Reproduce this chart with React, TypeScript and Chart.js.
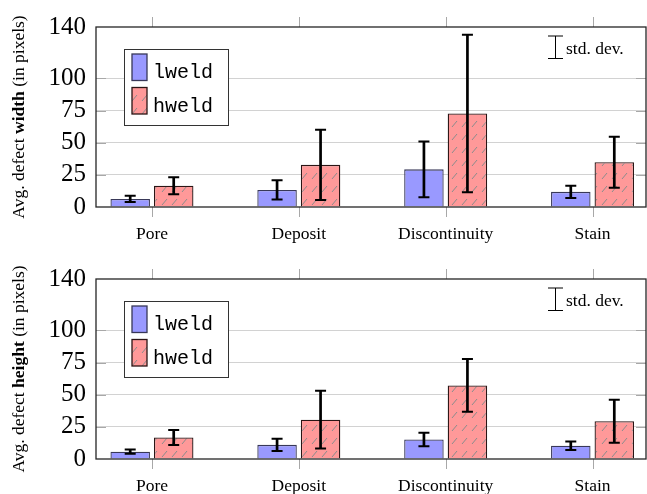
import React, { useEffect, useRef } from 'react';
import { Chart, registerables } from 'chart.js';

Chart.register(...registerables);

// ---------- data ----------
const categories = ['Pore', 'Deposit', 'Discontinuity', 'Stain'];
const seriesNames = ['lweld', 'hweld'];
const yTicks = [0, 25, 50, 75, 100, 140];

const widthLweld = [6.3, 13.3, 29.3, 11.8];
const widthLweldStd = [2.4, 7.5, 21.7, 4.8];
const widthHweld = [16.6, 32.8, 72.7, 34.8];
const widthHweldStd = [6.6, 27.3, 61.3, 19.9];

const heightLweld = [5.7, 11.0, 15.2, 10.3];
const heightLweldStd = [1.7, 4.8, 5.3, 3.3];
const heightHweld = [16.7, 30.6, 57.2, 29.4];
const heightHweldStd = [5.8, 22.5, 20.5, 16.7];

// ---------- styles ----------
const SERIF = "'Liberation Serif', 'Times New Roman', serif";
const MONO = "'Liberation Mono', 'Courier New', monospace";
const BLUE = '#9999ff';
const RED = '#ff9999';
const X_MIN = -0.381;
const X_MAX = 3.364;

function makeHatch(): CanvasPattern | string {
  const c = document.createElement('canvas');
  c.width = 10;
  c.height = 13;
  const g = c.getContext('2d');
  if (!g) return RED;
  g.fillStyle = RED;
  g.fillRect(0, 0, 10, 13);
  g.strokeStyle = '#8c8c8c';
  g.lineWidth = 1;
  g.beginPath();
  g.moveTo(2, 10);
  g.lineTo(7, 4);
  g.stroke();
  return g.createPattern(c, 'repeat') || RED;
}

type PanelProps = {
  word: string;
  lweld: number[];
  lweldStd: number[];
  hweld: number[];
  hweldStd: number[];
  canvasHeight: number;
  top: number;
};

function Panel({ word, lweld, lweldStd, hweld, hweldStd, canvasHeight, top }: PanelProps) {
  const ref = useRef<HTMLCanvasElement | null>(null);

  useEffect(() => {
    if (!ref.current) return;
    const hatch = makeHatch();
    const fills = [BLUE, hatch];
    const borders = ['#383858', '#2b1515'];

    const decor = {
      id: 'decor',
      beforeDatasetsDraw(chart: any) {
        const { ctx, chartArea: a, scales } = chart;
        const y = scales.y;
        const x = scales.x;
        ctx.save();
        ctx.strokeStyle = '#a8a8a8';
        ctx.lineWidth = 1;
        ctx.beginPath();
        for (const v of yTicks) {
          if (v === 0 || v === 140) continue;
          const py = Math.round(y.getPixelForValue(v)) + 0.5;
          ctx.moveTo(a.left, py);
          ctx.lineTo(a.left + 10, py);
          ctx.moveTo(a.right - 10, py);
          ctx.lineTo(a.right, py);
        }
        categories.forEach((_, i) => {
          const px = Math.round(x.getPixelForValue(i)) + 0.5;
          ctx.moveTo(px, a.top - 10);
          ctx.lineTo(px, a.top);
          ctx.moveTo(px, a.bottom);
          ctx.lineTo(px, a.bottom + 10);
        });
        ctx.stroke();
        ctx.restore();
      },
      afterDatasetsDraw(chart: any) {
        const { ctx, chartArea: a, scales } = chart;
        const y = scales.y;
        ctx.save();
        // error bars
        ctx.strokeStyle = '#000';
        chart.data.datasets.forEach((ds: any, di: number) => {
          const meta = chart.getDatasetMeta(di);
          meta.data.forEach((bar: any, j: number) => {
            const v = ds.data[j].y;
            const s = ds.errors[j];
            const cx = bar.x;
            const y1 = y.getPixelForValue(v + s);
            const y2 = y.getPixelForValue(v - s);
            ctx.lineWidth = 2.7;
            ctx.beginPath();
            ctx.moveTo(cx, y1);
            ctx.lineTo(cx, y2);
            ctx.stroke();
            ctx.lineWidth = 2;
            ctx.beginPath();
            ctx.moveTo(cx - 5.5, y1);
            ctx.lineTo(cx + 5.5, y1);
            ctx.moveTo(cx - 5.5, y2);
            ctx.lineTo(cx + 5.5, y2);
            ctx.stroke();
          });
        });
        // axis box
        ctx.strokeStyle = '#262626';
        ctx.lineWidth = 1.3;
        ctx.strokeRect(a.left, a.top, a.right - a.left, a.bottom - a.top);

        // legend
        const lx = a.left + 28;
        const ly = a.top + 21.5;
        ctx.fillStyle = '#fff';
        ctx.fillRect(lx, ly, 104.5, 76.5);
        ctx.strokeStyle = '#333';
        ctx.lineWidth = 1;
        ctx.strokeRect(Math.round(lx) + 0.5, Math.round(ly) + 0.5, 104, 76);
        const swY = [a.top + 27, a.top + 60.5];
        seriesNames.forEach((name, i) => {
          const sx = a.left + 36;
          const sy = swY[i];
          ctx.fillStyle = fills[i] as any;
          ctx.fillRect(sx, sy, 15, 26.5);
          ctx.strokeStyle = borders[i];
          ctx.lineWidth = 1.3;
          ctx.strokeRect(sx, sy, 15, 26.5);
          ctx.fillStyle = '#000';
          ctx.font = `20px ${MONO}`;
          ctx.textBaseline = 'alphabetic';
          ctx.textAlign = 'left';
          ctx.fillText(name, a.left + 57, sy + 24);
        });

        // std. dev. legend
        const ex = a.right - 90.5;
        const et = a.top + 9;
        const eb = a.top + 31.5;
        ctx.strokeStyle = '#000';
        ctx.lineWidth = 1;
        ctx.beginPath();
        ctx.moveTo(ex, et);
        ctx.lineTo(ex, eb);
        ctx.moveTo(ex - 7.5, et);
        ctx.lineTo(ex + 7.5, et);
        ctx.moveTo(ex - 7.5, eb);
        ctx.lineTo(ex + 7.5, eb);
        ctx.stroke();
        ctx.fillStyle = '#000';
        ctx.font = `17.5px ${SERIF}`;
        ctx.textBaseline = 'alphabetic';
        ctx.textAlign = 'left';
        ctx.fillText('std. dev.', a.right - 80, a.top + 26.5);

        // y axis title with bold word
        const parts: [string, boolean][] = [
          ['Avg. defect ', false],
          [word, true],
          [' (in pixels)', false],
        ];
        ctx.translate(19.5, (a.top + a.bottom) / 2);
        ctx.rotate(-Math.PI / 2);
        ctx.textBaseline = 'middle';
        let total = 0;
        const widths = parts.map(([t, b]) => {
          ctx.font = `${b ? 'bold ' : ''}17.5px ${SERIF}`;
          const w = ctx.measureText(t).width;
          total += w;
          return w;
        });
        let cx = -total / 2;
        parts.forEach(([t, b], i) => {
          ctx.font = `${b ? 'bold ' : ''}17.5px ${SERIF}`;
          ctx.fillText(t, cx, 0);
          cx += widths[i];
        });
        ctx.restore();
      },
    };

    const chart = new Chart(ref.current, {
      type: 'bar',
      data: {
        datasets: [
          {
            label: seriesNames[0],
            data: lweld.map((v, i) => ({ x: i, y: v })),
            errors: lweldStd,
            backgroundColor: fills[0],
            borderColor: borders[0],
            borderWidth: 1.3,
            categoryPercentage: 0.5924,
            barPercentage: 0.908,
          } as any,
          {
            label: seriesNames[1],
            data: hweld.map((v, i) => ({ x: i, y: v })),
            errors: hweldStd,
            backgroundColor: fills[1],
            borderColor: borders[1],
            borderWidth: 1.3,
            categoryPercentage: 0.5924,
            barPercentage: 0.908,
          } as any,
        ],
      },
      options: {
        responsive: false,
        animation: false,
        layout: { padding: { top: 27, right: 1, left: 0, bottom: 0 } },
        plugins: { legend: { display: false }, tooltip: { enabled: false } },
        scales: {
          x: {
            type: 'linear',
            offset: false,
            bounds: 'data',
            min: X_MIN,
            max: X_MAX,
            grid: { display: false, offset: false },
            border: { display: false },
            afterDataLimits: (s: any) => {
              s.min = X_MIN;
              s.max = X_MAX;
            },
            afterBuildTicks: (s: any) => {
              s.ticks = categories.map((_, i) => ({ value: i }));
              s.min = X_MIN;
              s.max = X_MAX;
            },
            afterFit: (s: any) => {
              s.height = canvasHeight - 207;
            },
            ticks: {
              autoSkip: false,
              includeBounds: false,
              maxRotation: 0,
              padding: 9,
              color: '#000',
              font: { family: SERIF, size: 17.5 },
              callback: (v: any) => categories[v as number] ?? '',
            },
          },
          y: {
            type: 'linear',
            min: 0,
            max: 140,
            afterBuildTicks: (s: any) => {
              s.ticks = yTicks.map((v) => ({ value: v }));
            },
            afterFit: (s: any) => {
              s.width = 96;
            },
            grid: {
              drawTicks: false,
              lineWidth: 1,
              color: (c: any) =>
                c.tick && c.tick.value > 0 && c.tick.value < 140 ? '#d2d2d2' : 'rgba(0,0,0,0)',
            },
            border: { display: false },
            ticks: {
              padding: 10,
              color: '#000',
              font: { family: SERIF, size: 25 },
            },
          },
        },
      } as any,
      plugins: [decor],
    });
    return () => chart.destroy();
  }, []);

  return (
    <canvas
      ref={ref}
      width={647}
      height={canvasHeight}
      style={{ position: 'absolute', left: 0, top, width: 647, height: canvasHeight, display: 'block' }}
    />
  );
}

export default function App() {
  return (
    <div style={{ position: 'absolute', left: 0, top: 0, width: 647, height: 494, background: '#fff', overflow: 'hidden' }}>
      <Panel
        word="width"
        lweld={widthLweld}
        lweldStd={widthLweldStd}
        hweld={widthHweld}
        hweldStd={widthHweldStd}
        canvasHeight={247}
        top={0}
      />
      <Panel
        word="height"
        lweld={heightLweld}
        lweldStd={heightLweldStd}
        hweld={heightHweld}
        hweldStd={heightHweldStd}
        canvasHeight={242}
        top={252}
      />
    </div>
  );
}
